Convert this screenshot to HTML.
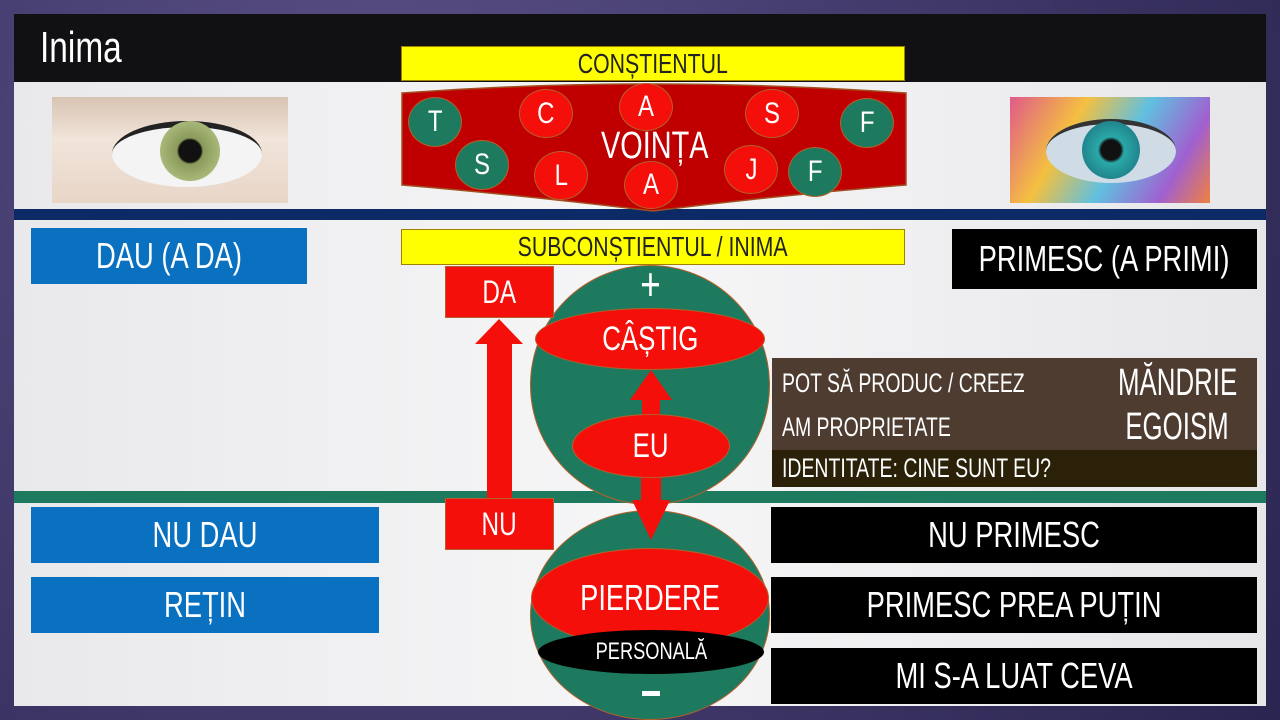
<!DOCTYPE html>
<html><head><meta charset="utf-8"><style>
*{margin:0;padding:0;box-sizing:border-box}
body{width:1280px;height:720px;overflow:hidden;background:#3b3560;position:relative;font-family:"Liberation Sans Narrow","Liberation Sans",sans-serif}
.a{position:absolute}
.b{position:absolute;display:flex;align-items:center;justify-content:center;color:#fff;white-space:nowrap}
.b span{display:inline-block;transform:scaleX(.76)}
.c{position:absolute;border-radius:50%;display:flex;align-items:center;justify-content:center;color:#fff;font-size:30px;border:1.5px solid #b4602a}
.c span{display:inline-block;transform:scaleX(.8)}
.g{background:#1e7a5e}.r{background:#f40f0b}
</style></head><body>
<div class="a" style="left:0;top:0;width:1280px;height:720px;background:radial-gradient(circle at 30% 20%,#5a4f86,#2a2550)"></div>
<div class="a" style="left:14px;top:14px;width:1252px;height:692px;background:linear-gradient(90deg,#e9e9ec,#f6f6f7 50%,#e7e7ea)"></div>
<div class="a" style="left:14px;top:14px;width:1252px;height:68px;background:#111114"></div>
<div class="b" style="left:40px;top:22px;height:52px;font-size:44px;justify-content:flex-start"><span style="transform-origin:left">Inima</span></div>
<!-- eyes -->
<div class="a" style="left:52px;top:97px;width:236px;height:106px;background:linear-gradient(#d8c4b4,#f1e4d9 40%,#e8d6c8);overflow:hidden">
 <div class="a" style="left:60px;top:24px;width:150px;height:66px;border-radius:50%;background:#f4f4f4;border-top:6px solid #222"></div>
 <div class="a" style="left:108px;top:24px;width:60px;height:60px;border-radius:50%;background:radial-gradient(circle,#111 26%,#8a9a5a 31%,#a8b878 70%,#55603a)"></div>
</div>
<div class="a" style="left:1010px;top:97px;width:200px;height:106px;background:linear-gradient(120deg,#e05a8a,#f4c040 30%,#60c0e0 55%,#a060d0 80%,#f08040);overflow:hidden">
 <div class="a" style="left:36px;top:22px;width:130px;height:64px;border-radius:50%;background:#cfdce6;border-top:5px solid #333"></div>
 <div class="a" style="left:72px;top:24px;width:58px;height:58px;border-radius:50%;background:radial-gradient(circle,#111 24%,#2aa8a8 32%,#1a6a7a)"></div>
</div>
<!-- lines -->
<div class="a" style="left:14px;top:209px;width:1252px;height:11px;background:#0c2a66"></div>
<div class="a" style="left:14px;top:491px;width:1252px;height:12px;background:#1e7a5e"></div>
<!-- constientul -->
<div class="b" style="left:401px;top:46px;width:504px;height:35px;background:#ffff00;border:1px solid #a08000;color:#222;font-size:28px"><span>CONȘTIENTUL</span></div>
<svg class="a" style="left:400px;top:83px" width="508" height="130"><path d="M2,10 Q250,-8 506,10 L506,102 Q380,112 253,128 Q120,112 2,102 Z" fill="#c00000" stroke="#a05020" stroke-width="1.5"/></svg>
<div class="b" style="left:600px;top:126px;width:110px;height:40px;font-size:38px"><span>VOINȚA</span></div>
<div class="c g" style="left:408px;top:97px;width:54px;height:50px"><span>T</span></div>
<div class="c g" style="left:455px;top:140px;width:54px;height:50px"><span>S</span></div>
<div class="c r" style="left:519px;top:89px;width:54px;height:49px"><span>C</span></div>
<div class="c r" style="left:534px;top:151px;width:54px;height:49px"><span>L</span></div>
<div class="c r" style="left:619px;top:83px;width:54px;height:48px"><span>A</span></div>
<div class="c r" style="left:624px;top:161px;width:54px;height:48px"><span>A</span></div>
<div class="c r" style="left:745px;top:89px;width:54px;height:49px"><span>S</span></div>
<div class="c r" style="left:724px;top:145px;width:54px;height:49px"><span>J</span></div>
<div class="c g" style="left:840px;top:98px;width:54px;height:50px"><span>F</span></div>
<div class="c g" style="left:788px;top:147px;width:54px;height:50px"><span>F</span></div>
<!-- subconstientul -->
<div class="b" style="left:401px;top:229px;width:504px;height:36px;background:#ffff00;border:1px solid #a08000;color:#222;font-size:28px"><span>SUBCONȘTIENTUL / INIMA</span></div>
<div class="b" style="left:31px;top:228px;width:276px;height:56px;background:#0a70c0;font-size:36px"><span>DAU (A DA)</span></div>
<div class="b" style="left:952px;top:229px;width:305px;height:60px;background:#000;font-size:36px"><span>PRIMESC (A PRIMI)</span></div>
<div class="b" style="left:31px;top:507px;width:348px;height:56px;background:#0a70c0;font-size:36px"><span>NU DAU</span></div>
<div class="b" style="left:31px;top:577px;width:348px;height:56px;background:#0a70c0;font-size:36px"><span>REȚIN</span></div>
<div class="b" style="left:771px;top:507px;width:486px;height:56px;background:#000;font-size:36px"><span>NU PRIMESC</span></div>
<div class="b" style="left:771px;top:577px;width:486px;height:56px;background:#000;font-size:36px"><span>PRIMESC PREA PUȚIN</span></div>
<div class="b" style="left:771px;top:648px;width:486px;height:56px;background:#000;font-size:36px"><span>MI S-A LUAT CEVA</span></div>
<!-- brown box -->
<div class="a" style="left:772px;top:358px;width:485px;height:92px;background:#4e3c31"></div>
<div class="a" style="left:772px;top:450px;width:485px;height:37px;background:#2b2108"></div>
<div class="b" style="left:782px;top:364px;height:38px;font-size:27px;justify-content:flex-start"><span style="transform-origin:left;transform:scaleX(.72)">POT SĂ PRODUC / CREEZ</span></div>
<div class="b" style="left:782px;top:408px;height:38px;font-size:27px;justify-content:flex-start"><span style="transform-origin:left;transform:scaleX(.72)">AM PROPRIETATE</span></div>
<div class="b" style="left:782px;top:450px;height:37px;font-size:27px;justify-content:flex-start"><span style="transform-origin:left;transform:scaleX(.72)">IDENTITATE: CINE SUNT EU?</span></div>
<div class="b" style="left:1100px;top:362px;width:155px;height:42px;font-size:38px"><span style="transform:scaleX(.68)">MĂNDRIE</span></div>
<div class="b" style="left:1100px;top:406px;width:155px;height:42px;font-size:38px"><span style="transform:scaleX(.68)">EGOISM</span></div>
<!-- circles -->
<div class="a" style="left:530px;top:265px;width:240px;height:240px;border-radius:50%;background:#1e7a5e;border:1px solid #b4602a"></div>
<div class="a" style="left:530px;top:510px;width:240px;height:210px;border-radius:50%;background:#1e7a5e;border:1px solid #b4602a"></div>
<div class="b" style="left:620px;top:262px;width:60px;height:44px;font-size:46px"><span>+</span></div>
<div class="b" style="left:535px;top:308px;width:230px;height:62px;border-radius:50%;background:#f40f0b;border:1.5px solid #b4602a;font-size:34px"><span>CÂȘTIG</span></div>
<svg class="a" style="left:0;top:0" width="1280" height="720">
 <path d="M651,370 L672,400 L660,400 L660,420 L642,420 L642,400 L630,400 Z" fill="#f40f0b"/>
 <path d="M641,470 L661,470 L661,500 L670,500 L651,540 L632,500 L641,500 Z" fill="#f40f0b"/>
 <path d="M487,500 L487,344 L475,344 L499,319 L523,344 L512,344 L512,500 Z" fill="#f40f0b"/>
</svg>
<div class="b" style="left:572px;top:414px;width:158px;height:64px;border-radius:50%;background:#f40f0b;border:1.5px solid #b4602a;font-size:34px"><span>EU</span></div>
<div class="b" style="left:445px;top:266px;width:109px;height:52px;background:#f40f0b;border:1px solid #b4602a;font-size:32px"><span>DA</span></div>
<div class="b" style="left:445px;top:498px;width:109px;height:52px;background:#f40f0b;border:1px solid #b4602a;font-size:32px"><span>NU</span></div>
<div class="b" style="left:531px;top:548px;width:238px;height:100px;border-radius:50%;background:#f40f0b;border:1.5px solid #b4602a;font-size:36px"><span>PIERDERE</span></div>
<div class="b" style="left:538px;top:630px;width:226px;height:44px;border-radius:50%;background:#000;font-size:24px"><span>PERSONALĂ</span></div>
<div class="a" style="left:642px;top:691px;width:18px;height:5px;background:#fff"></div>
</body></html>
